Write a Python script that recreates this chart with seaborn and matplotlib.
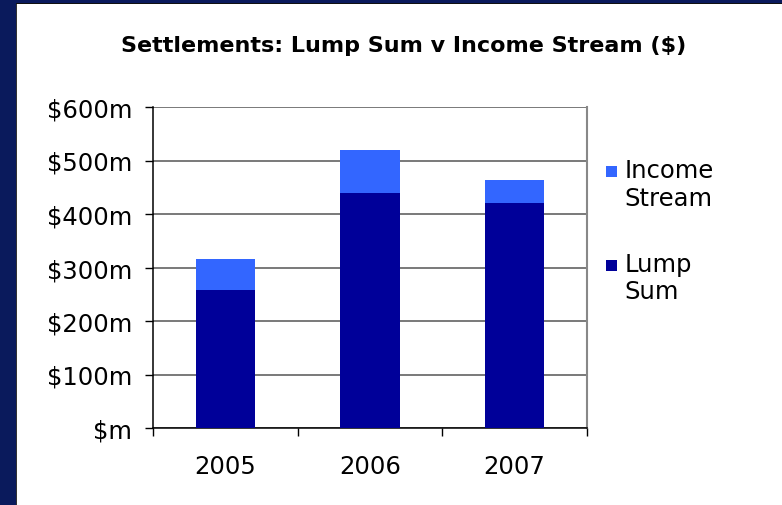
import matplotlib
matplotlib.use("Agg")
import matplotlib.pyplot as plt
import seaborn as sns
import pandas as pd
from matplotlib.patches import Rectangle, Patch
from matplotlib.legend_handler import HandlerPatch

years = ["2005", "2006", "2007"]
lump_sum = [258, 440, 420]
income_stream = [58, 80, 44]
y_ticks = [0, 100, 200, 300, 400, 500, 600]
y_tick_labels = ["$m", "$100m", "$200m", "$300m", "$400m", "$500m", "$600m"]
title = "Settlements: Lump Sum v Income Stream ($)"

c_lump = "#000099"
c_income = "#3366FF"
navy = "#0a1a5c"

sns.set_theme(style="white")
plt.rcParams["font.family"] = ["DejaVu Sans"]
plt.rcParams["text.color"] = "black"

df = pd.DataFrame({"year": years, "lump": lump_sum, "income": income_stream})
df["total"] = df["lump"] + df["income"]

W, H = 782, 506
fig = plt.figure(figsize=(W / 100, H / 100), dpi=100, facecolor=navy)
# white panel and its thin dark edges
fig.patches.append(Rectangle((17 / W, 0), 1 - 17 / W, 1 - 5 / H, transform=fig.transFigure,
                             facecolor="white", edgecolor="none", zorder=-10))
fig.patches.append(Rectangle((15.5 / W, 0), 1.5 / W, 1 - 5 / H, transform=fig.transFigure,
                             facecolor="#333333", edgecolor="none", zorder=-9))
fig.patches.append(Rectangle((15.5 / W, 1 - 5 / H), 1 - 15.5 / W, 1.2 / H, transform=fig.transFigure,
                             facecolor="#111111", edgecolor="none", zorder=-9))

ax = fig.add_axes([153 / W, 77 / H, 434 / W, 321 / H])
ax.set_facecolor("white")
ax.set_axisbelow(True)

sns.barplot(data=df, x="year", y="total", color=c_income, width=0.41, ax=ax,
            saturation=1, linewidth=0, zorder=2)
sns.barplot(data=df, x="year", y="lump", color=c_lump, width=0.41, ax=ax,
            saturation=1, linewidth=0, zorder=3)

ax.set_ylim(0, 600)
ax.set_xlim(-0.5, 2.5)
ax.set_yticks(y_ticks)
ax.set_yticklabels(y_tick_labels)
ax.yaxis.grid(True, color="#555555", linewidth=1.1)
ax.set_xlabel("")
ax.set_ylabel("")

fs = 17.5
ax.set_xticks([-0.5, 0.5, 1.5, 2.5], minor=True)
ax.tick_params(axis="x", which="major", length=0, pad=19, labelsize=fs, colors="black")
ax.tick_params(axis="x", which="minor", length=6, width=1, direction="out", color="black", bottom=True)
ax.tick_params(axis="y", which="major", length=6, width=1, direction="out", color="black",
               left=True, pad=9, labelsize=fs, labelcolor="black")

for s in ["left", "bottom"]:
    ax.spines[s].set_visible(True)
    ax.spines[s].set_color("black")
    ax.spines[s].set_linewidth(1.1)
ax.spines["right"].set_visible(True)
ax.spines["right"].set_color("#888888")
ax.spines["right"].set_linewidth(1.5)
ax.spines["top"].set_visible(False)


def square(legend, orig_handle, xdescent, ydescent, width, height, fontsize):
    side = 11 * 72 / 100  # in points
    return Rectangle((-xdescent, -ydescent), width, side)


handles = [Patch(facecolor=c_income, edgecolor="none"), Patch(facecolor=c_lump, edgecolor="none")]
leg = fig.legend(handles, ["Income\nStream", "Lump\nSum"], loc="upper left",
                 bbox_to_anchor=(606 / W, 1 - 159 / H), frameon=False, fontsize=fs,
                 handlelength=0.46, handleheight=0.82, handletextpad=0.3, labelspacing=1.72,
                 borderpad=0, borderaxespad=0,
                 handler_map={Patch: HandlerPatch(patch_func=square)})
for col in leg._legend_handle_box.get_children():
    for item in col.get_children():
        item.align = "top"
for t in leg.get_texts():
    t.set_color("black")

fig.text(404 / W, 1 - 46 / H, title, ha="center", va="center", fontsize=16,
         fontweight="bold", color="black")

fig.savefig("out.png", dpi=100, facecolor=navy)
